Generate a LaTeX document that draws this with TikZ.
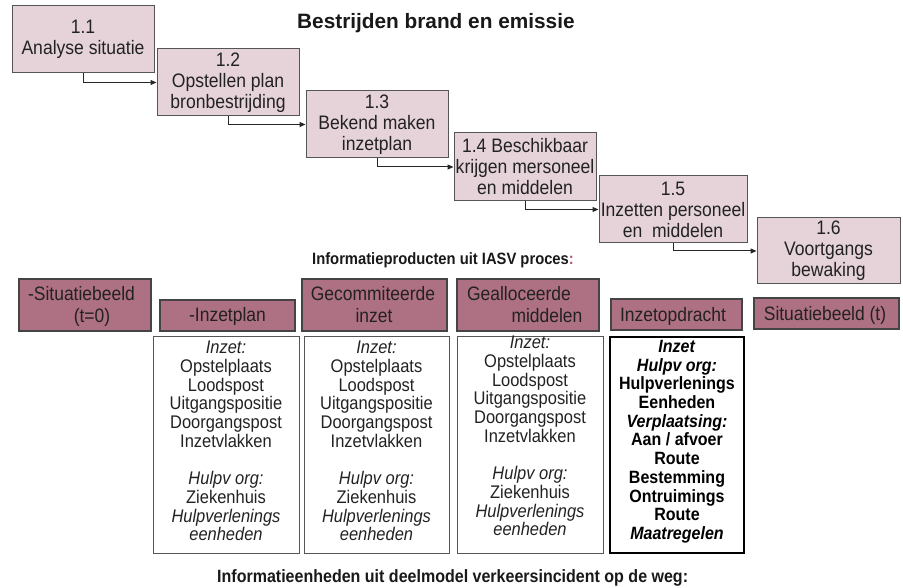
\documentclass[tikz,border=0pt]{standalone}
\usepackage{fontspec}
\setmainfont{Liberation Sans}[FakeStretch=0.9]
\newfontfamily\titlefont{Liberation Sans}
\usetikzlibrary{arrows.meta}
\definecolor{stepfill}{HTML}{E5D3D9}
\definecolor{prodfill}{HTML}{AE7083}
\definecolor{edgegray}{HTML}{555555}
\definecolor{inktext}{HTML}{222222}
\definecolor{coloncol}{HTML}{B05A6E}
\begin{document}
\begin{tikzpicture}[x=1pt,y=-1pt,
  stepbox/.style={draw=edgegray, line width=1pt, fill=stepfill, inner sep=0pt,
    align=center, text=inktext, font=\fontsize{19.5}{21}\selectfont},
  prodbox/.style={draw=edgegray!80!black, line width=1.2pt, fill=prodfill, inner sep=0pt},
  prodtext/.style={anchor=base, inner sep=0pt, text=inktext,
    font=\fontsize{19.4}{20.5}\selectfont},
  infobox/.style={draw=edgegray, line width=1pt, fill=white, inner sep=0pt,
    minimum height=216pt},
  infotext/.style={anchor=north, inner sep=0pt, align=center, text=inktext,
    font=\fontsize{18.3}{18.7}\selectfont},
  flow/.style={draw=black!85, line width=1pt, -{Triangle[length=6pt,width=5pt]}},
  heading/.style={anchor=base west, inner sep=0pt, text=black!90}
]
\useasboundingbox[fill=white] (0,0) rectangle (903,588);

% title
\node[heading, font=\titlefont\fontsize{20.8}{24}\selectfont\bfseries] (title) at (297,29)
  {Bestrijden brand en emissie};

% process steps
\node[stepbox, minimum width=142pt, minimum height=67pt] (s1) at (83,39.5)
  {1.1\\Analyse situatie};
\node[stepbox, minimum width=142pt, minimum height=67pt] (s2) at (228,82.5)
  {1.2\\Opstellen plan\\bronbestrijding};
\node[stepbox, minimum width=142pt, minimum height=67pt] (s3) at (377,124.5)
  {1.3\\Bekend maken\\inzetplan};
\node[stepbox, minimum width=142pt, minimum height=68pt] (s4) at (525,167)
  {1.4 Beschikbaar\\krijgen mersoneel\\en middelen};
\node[stepbox, minimum width=148pt, minimum height=67pt] (s5) at (673,209.5)
  {1.5\\Inzetten personeel\\en\ \ middelen};
\node[stepbox, minimum width=143pt, minimum height=66pt] (s6) at (828.5,251)
  {1.6\\Voortgangs\\bewaking};

\draw[flow] (s1.south) |- (s2.west);
\draw[flow] (s2.south) |- (s3.west);
\draw[flow] (s3.south) |- (s4.west);
\draw[flow] (s4.south) |- (s5.west);
\draw[flow] (s5.south) |- (s6.west);

% information products
\node[heading, font=\fontsize{16.4}{19}\selectfont\bfseries] (lblprod) at (312,265)
  {Informatieproducten uit IASV proces\textcolor{coloncol}{:}};

\node[prodbox, minimum width=132pt, minimum height=52pt] (p1) at (85,305) {};
\node[prodtext] (p1a) at (81.5,301) {-Situatiebeeld};
\node[prodtext] (p1b) at (92,323) {(t=0)};

\node[prodbox, minimum width=135pt, minimum height=31pt] (p2) at (227.5,315.5) {};
\node[prodtext] (p2a) at (227.5,322) {-Inzetplan};

\node[prodbox, minimum width=145pt, minimum height=52pt] (p3) at (374.5,305) {};
\node[prodtext] (p3a) at (373,301) {Gecommiteerde};
\node[prodtext] (p3b) at (374,323) {inzet};

\node[prodbox, minimum width=142pt, minimum height=52pt] (p4) at (528,305) {};
\node[prodtext] (p4a) at (519,301) {Gealloceerde};
\node[prodtext] (p4b) at (547,323) {middelen};

\node[prodbox, minimum width=131pt, minimum height=31pt] (p5) at (676.5,314.5) {};
\node[prodtext] (p5a) at (673,321.5) {Inzetopdracht};

\node[prodbox, minimum width=145pt, minimum height=31pt] (p6) at (826.5,313.5) {};
\node[prodtext] (p6a) at (825,320) {Situatiebeeld (t)};

% information units
\node[infobox, minimum width=146pt] (w1) at (226,445) {};
\node[infotext] (w1t) at (226,341)
  {\textit{Inzet:}\\Opstelplaats\\Loodspost\\Uitgangspositie\\Doorgangspost\\Inzetvlakken\\
   \mbox{}\\\textit{Hulpv org:}\\Ziekenhuis\\\textit{Hulpverlenings}\\\textit{eenheden}};

\node[infobox, minimum width=145pt] (w2) at (376.5,445) {};
\node[infotext] (w2t) at (376.5,341)
  {\textit{Inzet:}\\Opstelplaats\\Loodspost\\Uitgangspositie\\Doorgangspost\\Inzetvlakken\\
   \mbox{}\\\textit{Hulpv org:}\\Ziekenhuis\\\textit{Hulpverlenings}\\\textit{eenheden}};

\node[infobox, minimum width=146pt] (w3) at (530,445) {};
\node[infotext] (w3t) at (530,336)
  {\textit{Inzet:}\\Opstelplaats\\Loodspost\\Uitgangspositie\\Doorgangspost\\Inzetvlakken\\
   \mbox{}\\\textit{Hulpv org:}\\Ziekenhuis\\\textit{Hulpverlenings}\\\textit{eenheden}};

\node[infobox, minimum width=134pt, draw=black, line width=2pt] (w4) at (677,445) {};
\node[infotext, text=black, font=\fontsize{17.8}{18.7}\selectfont\bfseries] (w4t) at (677,340)
  {\textit{Inzet}\\\textit{Hulpv org:}\\Hulpverlenings\\Eenheden\\\textit{Verplaatsing:}\\
   Aan / afvoer\\Route\\Bestemming\\Ontruimings\\Route\\\textit{Maatregelen}};

\node[heading, font=\fontsize{17.8}{19}\selectfont\bfseries] (lblunit) at (217,582)
  {Informatieenheden uit deelmodel verkeersincident op de weg:};
\end{tikzpicture}
\end{document}
